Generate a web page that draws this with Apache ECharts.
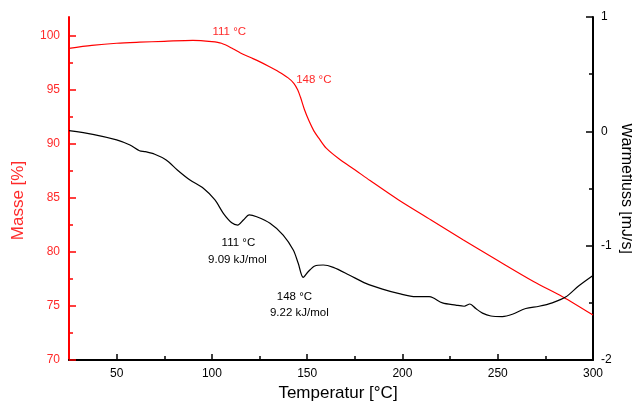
<!DOCTYPE html>
<html><head><meta charset="utf-8">
<script src="https://cdn.jsdelivr.net/npm/echarts@6/dist/echarts.min.js"></script>
<style>html,body{margin:0;padding:0;background:#fff}#c{width:632px;height:401px}</style>
</head><body><div id="c"></div>
<script>
// Mass curve (left axis)
const massT = [25, 37, 50, 62, 75, 90, 100, 105, 111, 115, 120, 125, 130, 135, 140, 143, 145, 146.5, 148.5, 151, 153.5, 156, 160, 167, 175, 183, 198, 215, 232, 250, 269, 284, 300];
const massV = [98.83, 99.1, 99.3, 99.4, 99.48, 99.57, 99.45, 99.3, 98.8, 98.4, 98.0, 97.6, 97.15, 96.67, 96.1, 95.6, 95.0, 94.3, 93.2, 92.1, 91.2, 90.55, 89.6, 88.57, 87.6, 86.6, 84.8, 82.95, 81.1, 79.2, 77.24, 75.86, 74.16];
// Heat flow curve (right axis)
const heatT = [25, 37.5, 50, 57, 62, 65, 70, 76, 82, 88.5, 95.5, 101.6, 106, 110.4, 113.5, 116.5, 119.6, 123.5, 130.5, 137.4, 142.7, 145.3, 147.9, 150.5, 154, 158.4, 163.7, 172, 180.8, 189.5, 198.3, 207, 214, 216, 221, 228, 232.4, 235.4, 238.5, 242, 246.4, 252.4, 257.7, 264.7, 271.7, 278.6, 285.6, 292.6, 300];
const heatV = [0.006, -0.026, -0.075, -0.12, -0.17, -0.178, -0.2, -0.25, -0.34, -0.426, -0.498, -0.6, -0.717, -0.80, -0.82, -0.776, -0.73, -0.747, -0.804, -0.907, -1.038, -1.154, -1.277, -1.228, -1.178, -1.169, -1.19, -1.256, -1.33, -1.38, -1.42, -1.446, -1.446, -1.455, -1.50, -1.52, -1.53, -1.51, -1.55, -1.59, -1.615, -1.62, -1.60, -1.55, -1.53, -1.50, -1.45, -1.35, -1.26];
// Ticks
const xMajor = [50, 100, 150, 200, 250, 300];
const xMinor = [75, 125, 175, 225, 275];
const yLMajor = [70, 75, 80, 85, 90, 95, 100];
const yLMinor = [72.5, 77.5, 82.5, 87.5, 92.5, 97.5];
const yRMajor = [-2, -1, 0, 1];
const yRMinor = [-1.5, -0.5, 0.5];
// Annotations [T, value, text]
const massNotes = [[109.1, 100.37, '111 °C'], [153.5, 95.9, '148 °C']];
const heatNotes = [[113.9, -0.974, '111 °C'], [113.4, -1.125, '9.09 kJ/mol'], [143.3, -1.446, '148 °C'], [145.9, -1.586, '9.22 kJ/mol']];

const FONT = 'Liberation Sans';
const RED = '#ff0000';
const RED_T = '#ff2a2a';
const chart = echarts.init(document.getElementById('c'));
const zip = (a, b) => a.map((v, i) => [v, b[i]]);
const notes = (arr, color) => arr.map(n => ({
  coord: [n[0], n[1]], symbol: 'rect', symbolSize: 1,
  itemStyle: { color: 'rgba(0,0,0,0)' },
  label: { show: true, position: 'inside', formatter: n[2], color: color, fontSize: 11.5, fontFamily: FONT }
}));

chart.setOption({
  animation: false,
  grid: { left: 69, right: 39, top: 17, bottom: 41, containLabel: false, outerBoundsMode: 'none' },
  xAxis: [{
    type: 'value', min: 25, max: 300,
    name: 'Temperatur [°C]', nameLocation: 'middle', nameGap: 22,
    nameTextStyle: { fontSize: 17, color: '#000', fontFamily: FONT, padding: [0, 0, 0, 14] },
    axisLine: { onZero: false, lineStyle: { color: '#000', width: 2 } },
    axisTick: { inside: true, length: 6, customValues: xMajor, lineStyle: { color: '#000', width: 1.5 } },
    axisLabel: { customValues: xMajor, margin: 8, fontSize: 12, color: '#000', fontFamily: FONT },
    splitLine: { show: false }
  }, {
    type: 'value', min: 25, max: 300, position: 'bottom',
    axisLine: { show: false, onZero: false },
    axisTick: { inside: true, length: 4, customValues: xMinor, lineStyle: { color: '#000', width: 1.5 } },
    axisLabel: { show: false }, splitLine: { show: false }
  }],
  yAxis: [{
    type: 'value', min: 70, max: 101.73, position: 'left',
    name: 'Masse [%]', nameLocation: 'middle', nameGap: 42, nameRotate: 90,
    nameTextStyle: { fontSize: 17, color: RED_T, fontFamily: FONT, padding: [0, 24, 0, 0] },
    axisLine: { show: true, onZero: false, lineStyle: { color: RED, width: 2 } },
    axisTick: { inside: true, length: 7, customValues: yLMajor, lineStyle: { color: RED, width: 1.5 } },
    axisLabel: { customValues: yLMajor, margin: 9, fontSize: 12, color: RED_T, fontFamily: FONT },
    splitLine: { show: false }
  }, {
    type: 'value', min: -2, max: 1, position: 'right',
    name: 'Warmefluss [mJ/s]', nameLocation: 'middle', nameGap: 25, nameRotate: -90, nameMoveOverlap: false,
    nameTextStyle: { fontSize: 16, color: '#000', fontFamily: FONT },
    axisLine: { show: true, onZero: false, lineStyle: { color: '#000', width: 2 } },
    axisTick: { inside: true, length: 7, customValues: yRMajor, lineStyle: { color: '#000', width: 1.5 } },
    axisLabel: { customValues: yRMajor, margin: 8, fontSize: 12, color: '#000', fontFamily: FONT },
    splitLine: { show: false }
  }, {
    type: 'value', min: 70, max: 101.73, position: 'left',
    axisLine: { show: false, onZero: false },
    axisTick: { inside: true, length: 4, customValues: yLMinor, lineStyle: { color: RED, width: 1.5 } },
    axisLabel: { show: false }, splitLine: { show: false }
  }, {
    type: 'value', min: -2, max: 1, position: 'right',
    axisLine: { show: false, onZero: false },
    axisTick: { inside: true, length: 4, customValues: yRMinor, lineStyle: { color: '#000', width: 1.5 } },
    axisLabel: { show: false }, splitLine: { show: false }
  }],
  series: [{
    type: 'line', xAxisIndex: 0, yAxisIndex: 0, data: zip(massT, massV),
    smooth: 0.3, symbol: 'none', lineStyle: { color: RED, width: 1.2 },
    markPoint: { data: notes(massNotes, RED_T), animation: false }
  }, {
    type: 'line', xAxisIndex: 0, yAxisIndex: 1, data: zip(heatT, heatV),
    smooth: 0.3, symbol: 'none', lineStyle: { color: '#000', width: 1.2 },
    markPoint: { data: notes(heatNotes, '#000'), animation: false }
  }]
});
</script></body></html>
